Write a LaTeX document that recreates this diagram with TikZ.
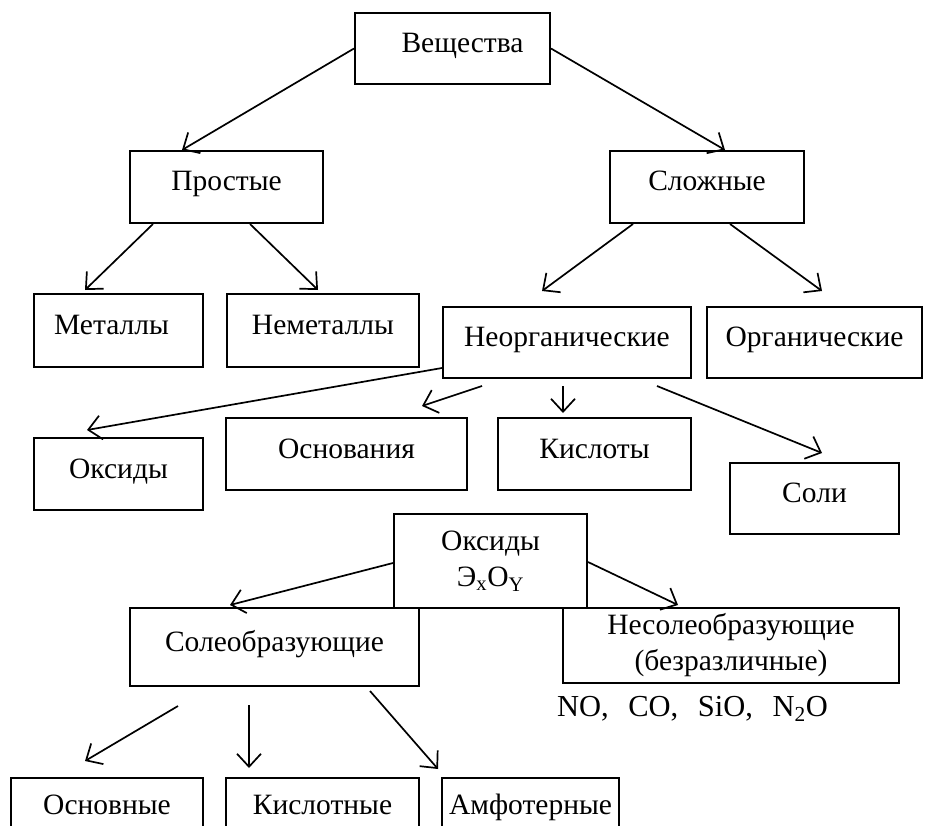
\documentclass[tikz,border=0pt]{standalone}
\usepackage{fontspec}
\setmainfont{Liberation Serif}
\usetikzlibrary{arrows.meta}

\begin{document}
\begin{tikzpicture}[x=1pt, y=-1pt]
  \useasboundingbox (0,0) rectangle (925,826);
  \clip (0,0) rectangle (925,826);
  \begin{scope}[every node/.style={draw, line width=2pt, anchor=north west, inner sep=0pt, align=center,
        font=\fontsize{29.5}{36}\selectfont, text height=20pt, text depth=12pt},
      twoline/.style={text height=, text depth=},
      every path/.style={line width=1.7pt, ->, >={Straight Barb[length=13pt,width=24pt]}}]
    \node[minimum width=195, minimum height=71] (Veshch) at (354,12) {\hspace*{20pt}Вещества};
    \node[minimum width=193, minimum height=72] (Prost) at (129,150) {Простые};
    \node[minimum width=194, minimum height=72] (Slozh) at (609,150) {Сложные};

    \node[minimum width=169, minimum height=73] (Met) at (33,293) {Металлы\hspace*{14pt}};
    \node[minimum width=192, minimum height=73] (Nemet) at (226,293) {Неметаллы};
    \node[minimum width=248, minimum height=71] (Neorg) at (442,306) {Неорганические};
    \node[minimum width=215, minimum height=71] (Org) at (706,306) {Органические};

    \node[minimum width=169, minimum height=72] (Oks) at (33,437) {Оксиды};
    \node[minimum width=241, minimum height=72] (Osn) at (225,417) {Основания};
    \node[minimum width=193, minimum height=72] (Kisl) at (497,417) {Кислоты};
    \node[minimum width=169, minimum height=71] (Soli) at (729,462) {Соли};

    \node[twoline, minimum width=193, minimum height=94] (OksE) at (393,513) {Оксиды\\Э\textsubscript{x}O\textsubscript{Y}};
    \node[minimum width=289, minimum height=78] (Soleobr) at (129,607) {Солеобразующие};
    \node[twoline, minimum width=336, minimum height=75] (Nesoleobr) at (562,607) {Несолеобразующие\\(безразличные)};
    \node[draw=none, anchor=west, font=\fontsize{30.5}{36}\selectfont] (Primer) at (556,712)
      {NO,\hspace{12pt} CO,\hspace{12pt} SiO,\hspace{12pt} N\textsubscript{2}O};

    \node[minimum width=192, minimum height=65] (Osnovn) at (10,777) {Основные};
    \node[minimum width=193, minimum height=65] (Kislotn) at (225,777) {Кислотные};
    \node[minimum width=177, minimum height=65] (Amfot) at (441,777) {Амфотерные};

    \path (Veshch.west) edge ([xshift=53pt]Prost.north west);
    \path (Veshch.east) edge ([xshift=116pt]Slozh.north west);
    \path ([xshift=24pt]Prost.south west) edge ([xshift=52pt,yshift=3pt]Met.north west);
    \path ([xshift=121pt]Prost.south west) edge ([xshift=92pt,yshift=3pt]Nemet.north west);
    \path ([xshift=24pt]Slozh.south west) edge ([xshift=100pt,yshift=15pt]Neorg.north west);
    \path ([xshift=121pt]Slozh.south west) edge ([xshift=116pt,yshift=15pt]Org.north west);

    \path ([yshift=11pt]Neorg.south west) edge ([xshift=54pt,yshift=7pt]Oks.north west);
    \path ([xshift=40pt,yshift=-7pt]Neorg.south west) edge ([xshift=197pt,yshift=11pt]Osn.north west);
    \path ([xshift=121pt,yshift=-7pt]Neorg.south west) edge ([xshift=66pt,yshift=4pt]Kisl.north west);
    \path ([xshift=215pt,yshift=-7pt]Neorg.south west) edge ([xshift=93pt,yshift=9pt]Soli.north west);

    \path ([yshift=-2pt]OksE.west) edge ([xshift=101pt,yshift=2pt]Soleobr.north west);
    \path ([yshift=-1pt]OksE.east) edge ([xshift=116pt,yshift=2pt]Nesoleobr.north west);

    \path ([xshift=49pt,yshift=-19pt]Soleobr.south west) edge ([xshift=75pt,yshift=16pt]Osnovn.north west);
    \path ([xshift=120pt,yshift=-18pt]Soleobr.south west) edge ([xshift=24pt,yshift=9pt]Kislotn.north west);
    \path ([xshift=241pt,yshift=-4pt]Soleobr.south west) edge ([xshift=-3pt,yshift=8pt]Amfot.north west);
  \end{scope}
\end{tikzpicture}
\end{document}
